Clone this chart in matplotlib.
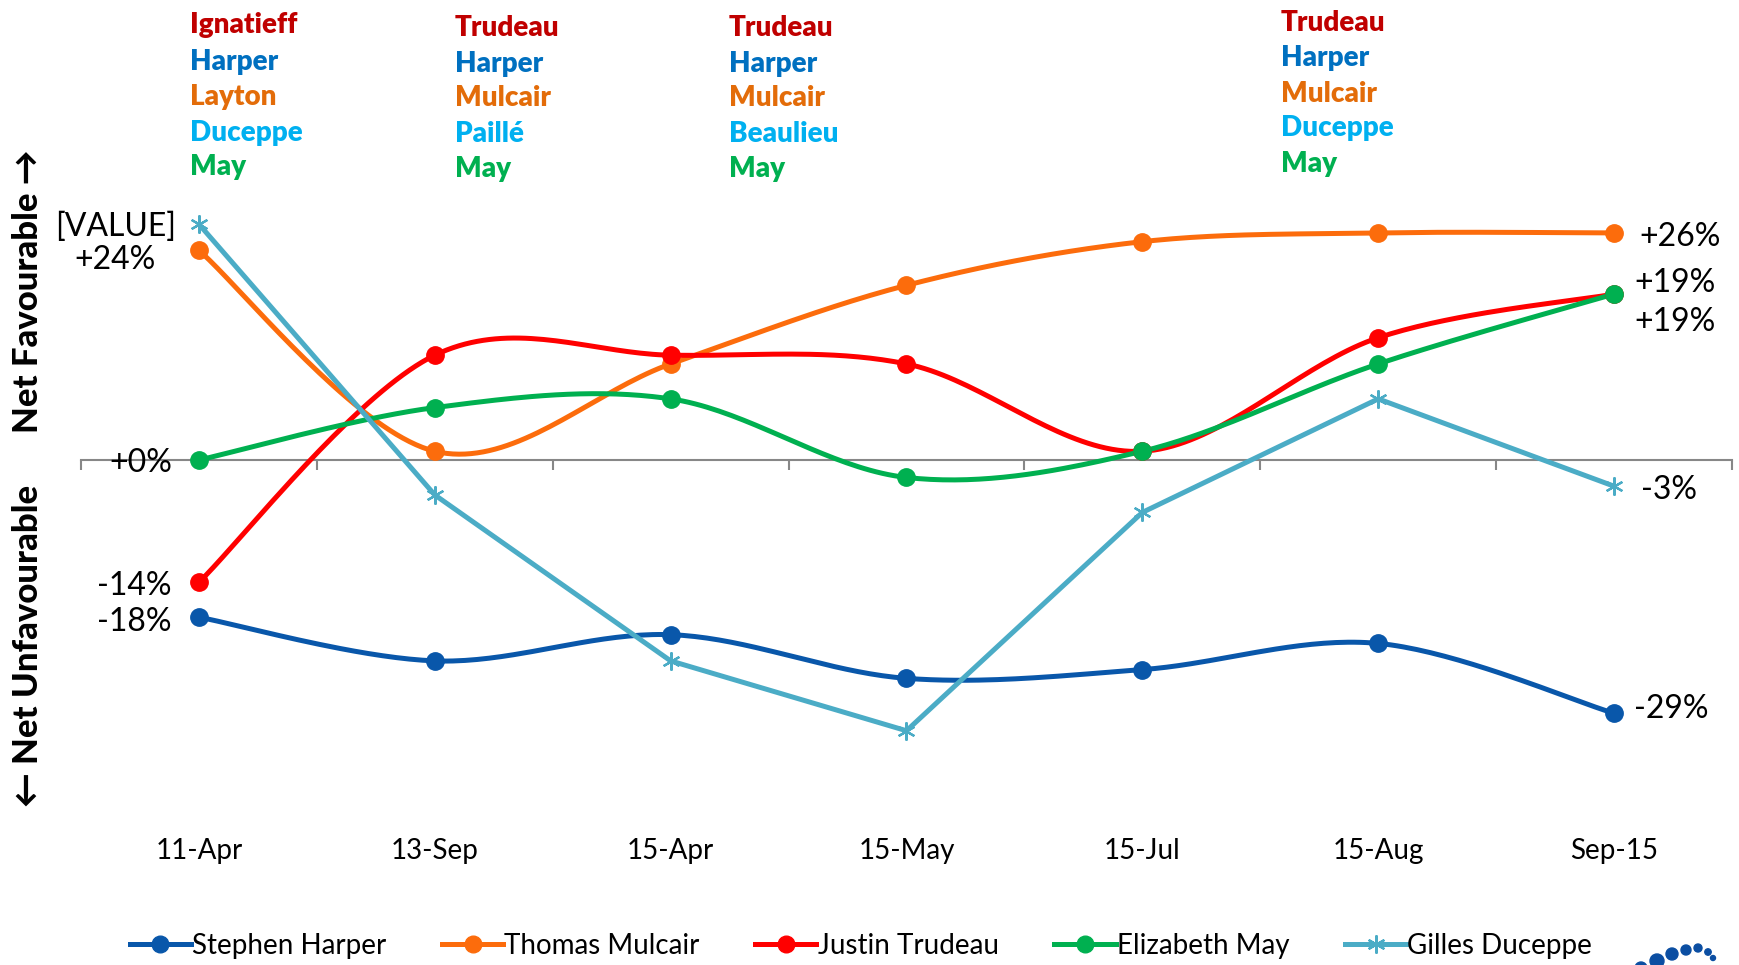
import numpy as np
import matplotlib
matplotlib.use("Agg")
import matplotlib.pyplot as plt
from matplotlib import transforms
from matplotlib.patches import Ellipse

# ---------------- data ----------------
categories = ["11-Apr", "13-Sep", "15-Apr", "15-May", "15-Jul", "15-Aug", "Sep-15"]
harper   = [-18, -23, -20, -25, -24, -21, -29]
mulcair  = [24, 1, 11, 20, 25, 26, 26]
trudeau  = [-14, 12, 12, 11, 1, 14, 19]
may      = [0, 6, 7, -2, 1, 11, 19]
duceppe  = [27, -4, -23, -31, -6, 7, -3]
series_names = ["Stephen Harper", "Thomas Mulcair", "Justin Trudeau", "Elizabeth May", "Gilles Duceppe"]

leader_cols = [
    ["Ignatieff", "Harper", "Layton", "Duceppe", "May"],
    ["Trudeau", "Harper", "Mulcair", "Paillé", "May"],
    ["Trudeau", "Harper", "Mulcair", "Beaulieu", "May"],
    ["Trudeau", "Harper", "Mulcair", "Duceppe", "May"],
]

FONT = "Lato"
W, H = 1739, 965
fig = plt.figure(figsize=(W / 100, H / 100), dpi=100)

# axes placement (pixels)
left_px, right_px = 81, 1732
ymin, ymax = -36, 32
zero_px = 460
unit = 8.734
top_px = zero_px - ymax * unit
bot_px = zero_px - ymin * unit
ax = fig.add_axes([left_px / W, 1 - bot_px / H, (right_px - left_px) / W, (bot_px - top_px) / H])
ax.set_xlim(-0.5, len(categories) - 0.5)
ax.set_ylim(ymin, ymax)


def smooth(ys, n=40):
    xs = np.arange(len(ys), dtype=float)
    pts = np.column_stack([xs, np.asarray(ys, dtype=float)])
    out = []
    for i in range(len(pts) - 1):
        p0 = pts[i - 1] if i > 0 else pts[i]
        p1, p2 = pts[i], pts[i + 1]
        p3 = pts[i + 2] if i + 2 < len(pts) else pts[i + 1]
        c1 = p1 + (p2 - p0) / 6
        c2 = p2 - (p3 - p1) / 6
        t = np.linspace(0, 1, n)[:, None]
        seg = (1 - t) ** 3 * p1 + 3 * (1 - t) ** 2 * t * c1 + 3 * (1 - t) * t ** 2 * c2 + t ** 3 * p2
        out.append(seg if i == 0 else seg[1:])
    return np.vstack(out)


colors = ["#0957AA", "#FC6C0C", "#FF0000", "#00B050", "#4BACC6"]
data = [harper, mulcair, trudeau, may, duceppe]
x = np.arange(len(categories))
lw = 3.6
handles = []
for i, (vals, col, name) in enumerate(zip(data, colors, series_names)):
    if name == "Gilles Duceppe":
        ax.plot(x, vals, color=col, lw=lw, zorder=3, solid_capstyle="round")
        ax.plot(x, vals, ls="none", marker=(6, 2, 0), ms=13, mew=1.6, color=col, zorder=4)
        h, = ax.plot([], [], color=col, lw=lw, marker=(6, 2, 0), ms=13, mew=1.6)
    else:
        s = smooth(vals)
        ax.plot(s[:, 0], s[:, 1], color=col, lw=lw, zorder=3, solid_capstyle="round")
        ax.plot(x, vals, ls="none", marker="o", ms=12.5, color=col, zorder=4)
        h, = ax.plot([], [], color=col, lw=lw, marker="o", ms=12)
    handles.append(h)

# axis styling
for sp in ["top", "right", "left"]:
    ax.spines[sp].set_visible(False)
ax.spines["bottom"].set_position(("data", 0))
ax.spines["bottom"].set_color("#878787")
ax.spines["bottom"].set_linewidth(1.5)
ax.spines["bottom"].set_zorder(1)
ax.set_yticks([])
ax.set_xticks(x)
ax.set_xticklabels([])
ax.tick_params(axis="x", which="major", length=0)
ax.set_xticks(np.arange(-0.5, len(categories), 1.0), minor=True)
ax.tick_params(axis="x", which="minor", length=7, width=1.5, color="#878787", direction="out")

# category labels below the plot
trans = transforms.blended_transform_factory(ax.transData, fig.transFigure)
for i, lab in enumerate(categories):
    ax.text(i, 1 - 851 / H, lab, transform=trans, ha="center", va="center",
            fontsize=20, family=FONT, color="black")

# data labels
lab_kw = dict(textcoords="offset pixels", fontsize=23, family=FONT, va="center", color="black")
ax.annotate("[VALUE]", (0, duceppe[0]), xytext=(-23, -3), ha="right", **lab_kw)
ax.annotate(f"+{mulcair[0]}%", (0, mulcair[0]), xytext=(-43, -10), ha="right", **lab_kw)
ax.annotate(f"+{may[0]}%", (0, may[0]), xytext=(-27, -3), ha="right", **lab_kw)
ax.annotate(f"{trudeau[0]}%", (0, trudeau[0]), xytext=(-27, -4), ha="right", **lab_kw)
ax.annotate(f"{harper[0]}%", (0, harper[0]), xytext=(-27, -5), ha="right", **lab_kw)
n = len(categories) - 1
ax.annotate(f"+{mulcair[n]}%", (n, mulcair[n]), xytext=(25, -4), ha="left", **lab_kw)
ax.annotate(f"+{trudeau[n]}%", (n, trudeau[n]), xytext=(20, 11), ha="left", **lab_kw)
ax.annotate(f"+{may[n]}%", (n, may[n]), xytext=(20, -28), ha="left", **lab_kw)
ax.annotate(f"{duceppe[n]}%", (n, duceppe[n]), xytext=(27, -4), ha="left", **lab_kw)
ax.annotate(f"{harper[n]}%", (n, harper[n]), xytext=(20, 4), ha="left", **lab_kw)

# leader name columns at top
name_colors = ["#C00000", "#0070C0", "#E36C09", "#00B0F0", "#00B050"]
col_x = [190, 455, 729, 1281]
col_y = [
    [25, 62, 97, 133, 167],
    [28, 64, 98, 134, 169],
    [28, 64, 98, 134, 169],
    [23, 58, 94, 128, 164],
]
for cx, cy, names in zip(col_x, col_y, leader_cols):
    for yy, nm, c in zip(cy, names, name_colors):
        fig.text(cx / W, 1 - yy / H, nm, ha="left", va="center", fontsize=20,
                 fontweight="heavy", family=FONT, color=c)

# y-axis direction labels
fig.text(28 / W, 1 - 291 / H, "Net Favourable \u2192", rotation=90, ha="center", va="center",
         fontsize=25, fontweight="black", family=[FONT, "DejaVu Sans"], color="black")
fig.text(28 / W, 1 - 646 / H, "\u2190 Net Unfavourable", rotation=90, ha="center", va="center",
         fontsize=25, fontweight="black", family=[FONT, "DejaVu Sans"], color="black")

# legend
fig.legend(handles, series_names, loc="center", bbox_to_anchor=(861 / W, 1 - 946 / H),
           ncol=5, frameon=False, prop={"family": FONT, "size": 20},
           handlelength=2.2, handletextpad=0.05, columnspacing=2.0, borderaxespad=0)

# partial logo dots in the lower-right corner
dots = [(1641, 968, 6), (1657, 961, 7), (1672, 954, 6), (1686, 950, 5),
        (1698, 948, 4), (1708, 952, 3.2), (1713, 958, 2.5)]
for dx, dy, r in dots:
    fig.patches.append(Ellipse((dx / W, 1 - dy / H), 2 * r / W, 2 * r / H, transform=fig.transFigure,
                               color="#0B4EA2", zorder=5))

fig.savefig("out.png", dpi=100, facecolor="white")
